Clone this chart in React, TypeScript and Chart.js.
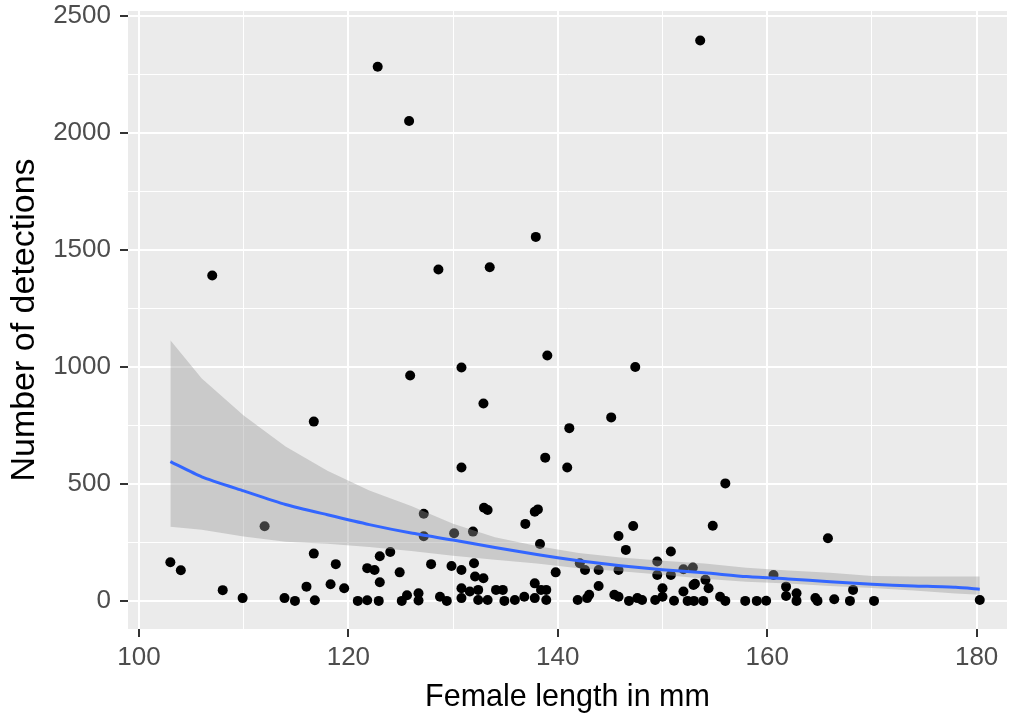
import React, { useEffect, useRef } from "react";
import { Chart, registerables } from "chart.js";

Chart.register(...registerables);

// Female length (mm) of each fish
const lengths: number[] = [
  153.6, 122.8, 125.8, 137.9, 107.0, 128.6, 133.5, 139.0, 130.8, 147.4,
  125.9, 132.9, 116.7, 145.1, 141.1, 138.8, 130.8, 140.9, 156.0, 112.0,
  103.0, 104.0, 108.0, 109.9, 113.9, 114.9, 116.7, 116.8, 116.0, 118.3,
  118.8, 119.6, 120.9, 121.8, 122.9, 121.8, 122.5, 123.0, 124.0, 123.0,
  124.9, 125.1, 125.6, 126.7, 126.7, 127.2, 127.2, 127.9, 128.75, 129.4,
  129.85, 130.1, 130.8, 131.9, 132.0, 132.95, 133.3, 132.1, 132.9, 130.8,
  130.8, 131.6, 132.4, 132.4, 133.3, 134.1, 134.75, 134.9, 135.9, 136.8,
  136.9, 137.8, 138.1, 138.3, 137.8, 138.4, 138.9, 138.9, 137.8, 139.8,
  141.9, 142.8, 143.0, 142.1, 142.6, 143.9, 143.9, 145.4, 145.8, 145.8,
  146.5, 147.2, 145.8, 146.8, 147.6, 148.05, 149.3, 150.0, 150.0, 149.5,
  149.5, 150.8, 150.8, 152.0, 152.0, 152.9, 151.1, 152.4, 152.96, 154.8,
  165.8, 154.1, 153.1, 153.0, 153.9, 154.4, 155.5, 156.0, 157.9, 159.0,
  159.9, 160.6, 161.8, 161.8, 162.8, 162.8, 164.6, 164.8, 166.4, 167.9,
  168.2, 170.2, 180.3,
];

// Number of detections of each fish
const detections: number[] = [
  2394, 2282, 2050, 1555, 1390, 1416, 1425, 1048, 997, 999,
  963, 843, 766, 784, 738, 612, 570, 570, 502, 319,
  165, 131, 46, 12, 12, 0, 202, 3, 61, 71,
  157, 54, 0, 3, 0, 140, 132, 191, 209, 80,
  122, 0, 24, 33, 2, 372, 276, 157, 18, 0,
  149, 289, 132, 296, 161, 398, 388, 104, 97, 54,
  12, 40, 47, 4, 4, 47, 47, 0, 4, 18,
  329, 381, 391, 243, 75, 47, 47, 4, 12, 122,
  4, 12, 26, 161, 132, 132, 64, 26, 18, 277,
  218, 320, 132, 0, 12, 4, 4, 54, 18, 168,
  111, 211, 111, 40, 135, 143, 1, 0, 68, 321,
  268, 90, 73, 0, 0, 54, 18, 0, 0, 0,
  1, 111, 61, 21, 33, 0, 12, 0, 7, 0,
  47, 0, 4,
];

// Fitted smooth and its confidence band
const smoothX: number[] = [103, 106, 110, 114, 118, 122, 126, 130, 134, 138, 142, 146, 150, 154, 158, 162, 166, 170, 174, 178, 180.3];
const smoothY: number[] = [595, 530, 470, 412, 368, 326, 290, 260, 228, 198, 172, 150, 133, 120, 104, 94, 82, 71, 64, 58, 50];
const upperY: number[] = [1114, 950, 792, 660, 556, 472, 405, 330, 272, 235, 205, 185, 172, 160, 142, 130, 120, 106, 104, 104, 104];
const lowerY: number[] = [317, 304, 275, 253, 244, 230, 213, 193, 176, 160, 140, 127, 112, 95, 82, 74, 64, 55, 44, 32, 26];

// Axis ticks (majors labelled, minors only as grid lines)
const xMajor: number[] = [100, 120, 140, 160, 180];
const xMinor: number[] = [110, 130, 150, 170];
const yMajor: number[] = [0, 500, 1000, 1500, 2000, 2500];
const yMinor: number[] = [250, 750, 1250, 1750, 2250];

const FONT = "'Liberation Sans', Arial, Helvetica, sans-serif";

const panelBg = {
  id: "panelBg",
  beforeDraw(chart: any) {
    const { ctx, chartArea } = chart;
    if (!chartArea) return;
    ctx.save();
    ctx.fillStyle = "#EBEBEB";
    ctx.fillRect(chartArea.left, chartArea.top, chartArea.right - chartArea.left, chartArea.bottom - chartArea.top);
    ctx.restore();
  },
};

export default function App() {
  const ref = useRef<HTMLCanvasElement | null>(null);

  useEffect(() => {
    if (!ref.current) return;
    const pts = lengths.map((x, i) => ({ x, y: detections[i] }));
    const line = smoothX.map((x, i) => ({ x, y: smoothY[i] }));
    const up = smoothX.map((x, i) => ({ x, y: upperY[i] }));
    const lo = smoothX.map((x, i) => ({ x, y: lowerY[i] }));

    const xAll = [...xMajor, ...xMinor].sort((a, b) => a - b);
    const yAll = [...yMajor, ...yMinor].sort((a, b) => a - b);
    const isXMajor = (v: any) => xMajor.includes(v);
    const isYMajor = (v: any) => yMajor.includes(v);

    const chart = new Chart(ref.current, {
      type: "scatter",
      data: {
        datasets: [
          {
            label: "points",
            data: pts,
            backgroundColor: "#000000",
            borderWidth: 0,
            pointRadius: 5,
            order: 3,
          },
          {
            label: "upper",
            data: up,
            showLine: true,
            pointRadius: 0,
            borderWidth: 0,
            borderColor: "rgba(0,0,0,0)",
            backgroundColor: "rgba(153,153,153,0.4)",
            fill: "+1",
            tension: 0,
            order: 2,
          },
          {
            label: "lower",
            data: lo,
            showLine: true,
            pointRadius: 0,
            borderWidth: 0,
            borderColor: "rgba(0,0,0,0)",
            fill: false,
            order: 2,
          },
          {
            label: "smooth",
            data: line,
            showLine: true,
            pointRadius: 0,
            borderWidth: 3,
            borderColor: "#3366FF",
            fill: false,
            tension: 0.2,
            order: 1,
          },
        ],
      },
      options: {
        animation: false,
        responsive: false,
        maintainAspectRatio: false,
        layout: { padding: { top: 11, right: 0, left: 0, bottom: 0 } },
        plugins: { legend: { display: false }, tooltip: { enabled: false } },
        scales: {
          x: {
            type: "linear",
            min: 98.955,
            max: 182.9,
            afterBuildTicks: (axis: any) => {
              axis.ticks = xAll.map((v) => ({ value: v }));
            },
            afterFit: (s: any) => {
              s.height = 88;
              s.paddingLeft = 0;
              s.paddingRight = 0;
            },
            border: { display: false },
            grid: {
              color: "#FFFFFF",
              lineWidth: (c: any) => (isXMajor(c.tick?.value) ? 2 : 1),
              tickLength: 8,
              tickColor: (c: any) => (isXMajor(c.tick?.value) ? "#333333" : "rgba(0,0,0,0)"),
              tickWidth: 2,
            },
            ticks: {
              autoSkip: false,
              maxRotation: 0,
              padding: 5,
              color: "#4D4D4D",
              font: { family: FONT, size: 26 },
              callback: (v: any) => (isXMajor(v) ? String(v) : ""),
            },
            title: {
              display: true,
              text: "Female length in mm",
              color: "#000000",
              font: { family: FONT, size: 30.5 },
              padding: { top: 0, bottom: 1 },
            },
          },
          y: {
            type: "linear",
            min: -120,
            max: 2520,
            afterBuildTicks: (axis: any) => {
              axis.ticks = yAll.map((v) => ({ value: v }));
            },
            afterFit: (s: any) => {
              s.width = 128;
              s.paddingTop = 0;
              s.paddingBottom = 0;
            },
            border: { display: false },
            grid: {
              color: "#FFFFFF",
              lineWidth: (c: any) => (isYMajor(c.tick?.value) ? 2 : 1),
              tickLength: 8,
              tickColor: (c: any) => (isYMajor(c.tick?.value) ? "#333333" : "rgba(0,0,0,0)"),
              tickWidth: 2,
            },
            ticks: {
              autoSkip: false,
              padding: 9,
              color: "#4D4D4D",
              font: { family: FONT, size: 26 },
              callback: (v: any) => (isYMajor(v) ? String(v) : ""),
            },
            title: {
              display: true,
              text: "Number of detections",
              color: "#000000",
              font: { family: FONT, size: 34 },
              padding: { top: 4, bottom: 0 },
            },
          },
        },
      },
      plugins: [panelBg],
    } as any);

    return () => chart.destroy();
  }, []);

  return (
    <div style={{ position: "absolute", left: 0, top: 0, width: 1012, height: 717, background: "#FFFFFF" }}>
      <canvas ref={ref} width={1012} height={717} style={{ display: "block" }} />
    </div>
  );
}
